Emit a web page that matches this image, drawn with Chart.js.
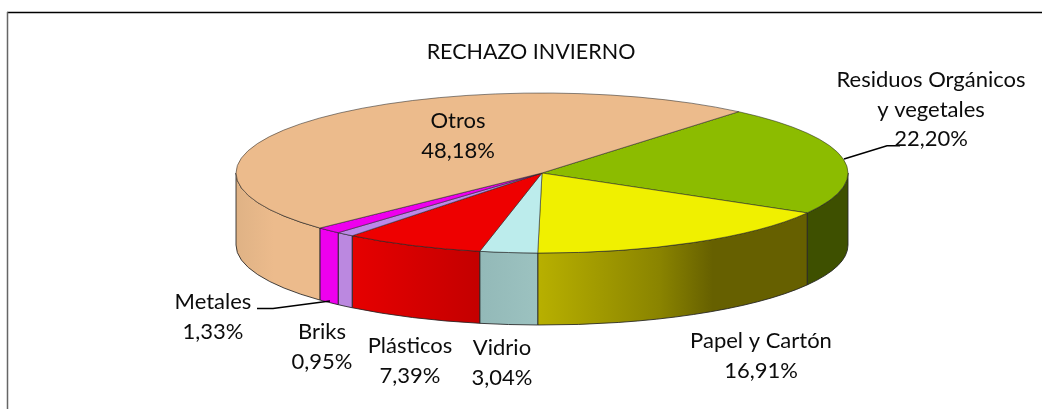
<!DOCTYPE html>
<html><head><meta charset="utf-8">
<style>html,body{margin:0;padding:0;background:#fff}canvas{display:block}</style>
<script src="https://cdn.jsdelivr.net/npm/chart.js@4"></script>
</head><body><canvas id="c" width="1042" height="409"></canvas>
<script>
const chartTitle = 'RECHAZO INVIERNO';
const categories = ['Residuos Orgánicos y vegetales','Papel y Cartón','Vidrio','Plásticos','Briks','Metales','Otros'];
const values = [22.20,16.91,3.04,7.39,0.95,1.33,48.18];
const topColors = ['#8CBC00','#F0F000','#BCECEC','#EE0000','#BB88E8','#EE00EE','#ECBB8C'];
const wallStops = [
  [[0,'#3E5000'],[1,'#3E5000']],
  [[0,'#B8B000'],[0.45,'#8A8400'],[0.65,'#666000'],[1,'#666000']],
  [[0,'#93B9B8'],[1,'#9CC2C0']],
  [[0,'#E60000'],[1,'#C40000']],
  [[0,'#BB88E0'],[1,'#BB88E0']],
  [[0,'#EE00EE'],[1,'#EE00EE']],
  [[0,'#DFB285'],[0.45,'#ECBB8C'],[1,'#ECBB8C']]
];
const labelLines = [['Residuos Orgánicos','y vegetales'],['Papel y Cartón'],['Vidrio'],['Plásticos'],['Briks'],['Metales'],['Otros']];
const labelAnchors = [[931,80],[761,341],[502,348],[410,346],[322,332],[213,302],[458,121]];
const leaders = [[[844,159],[887,145.7],[900,145.7]],null,null,null,null,[[257,308.5],[273,308.5],[330,301]],null];
const RY = 80, RX = 306, DEPTH = 72, LINE_H = 29.5;
const EDGE = 'rgba(35,35,35,0.85)';
const fmt = v => v.toFixed(2).replace('.',',') + '%';

function visibleRange(a,b){
  for (const s of [-2*Math.PI,0,2*Math.PI]){
    const lo=Math.max(a+s,0), hi=Math.min(b+s,Math.PI);
    if (hi>lo) return [lo,hi];
  }
  return null;
}
const pie3d = {
  id:'pie3d',
  beforeDatasetsDraw(chart){
    const ctx=chart.ctx, arcs=chart.getDatasetMeta(0).data;
    arcs.forEach((arc,i)=>{
      const r=visibleRange(arc.startAngle,arc.endAngle);
      if(!r) return;
      const cx=arc.x, cy=arc.y, rx=arc.outerRadius;
      const x0=cx+rx*Math.cos(r[1]), x1=cx+rx*Math.cos(r[0]);
      const g=ctx.createLinearGradient(x0,0,x1,0);
      wallStops[i].forEach(s=>g.addColorStop(s[0],s[1]));
      ctx.save();
      ctx.beginPath();
      ctx.ellipse(cx,cy,rx,RY,0,r[0],r[1]);
      ctx.ellipse(cx,cy+DEPTH,rx,RY,0,r[1],r[0],true);
      ctx.closePath();
      ctx.fillStyle=g; ctx.fill();
      ctx.strokeStyle=EDGE; ctx.lineWidth=1; ctx.stroke();
      ctx.restore();
    });
  },
  beforeDatasetDraw(chart){
    const ctx=chart.ctx, a=chart.getDatasetMeta(0).data[0];
    ctx.save();
    ctx.translate(a.x,a.y); ctx.scale(1,RY/a.outerRadius); ctx.translate(-a.x,-a.y);
  },
  afterDatasetDraw(chart){ chart.ctx.restore(); },
  afterDraw(chart){
    const ctx=chart.ctx;
    ctx.save();
    ctx.strokeStyle='#000'; ctx.lineWidth=1.5;
    ctx.beginPath(); ctx.moveTo(7,12.5); ctx.lineTo(1042,12.5); ctx.stroke();
    ctx.strokeStyle='#666'; ctx.lineWidth=1.5;
    ctx.beginPath(); ctx.moveTo(7.5,12); ctx.lineTo(7.5,409); ctx.stroke();
    leaders.forEach(l=>{
      if(!l) return;
      ctx.strokeStyle='#000'; ctx.lineWidth=1.5;
      ctx.beginPath(); l.forEach((p,j)=> j?ctx.lineTo(p[0],p[1]):ctx.moveTo(p[0],p[1])); ctx.stroke();
    });
    ctx.fillStyle='#0c0c0c'; ctx.textAlign='center'; ctx.textBaseline='middle';
    ctx.font='21.5px Lato';
    ctx.fillText(chartTitle,531,52);
    ctx.font='22px Lato';
    categories.forEach((c,i)=>{
      const lines=[...labelLines[i],fmt(values[i])];
      lines.forEach((t,j)=>ctx.fillText(t,labelAnchors[i][0],labelAnchors[i][1]+j*LINE_H));
    });
    ctx.restore();
  }
};
new Chart(document.getElementById('c'),{
  type:'pie',
  data:{labels:categories,datasets:[{data:values,backgroundColor:topColors,borderColor:EDGE,borderWidth:1}]},
  options:{
    responsive:false,animation:false,rotation:40,radius:RX,
    layout:{padding:{left:42,right:0,top:0,bottom:63}},
    plugins:{legend:{display:false},tooltip:{enabled:false},title:{display:false}}
  },
  plugins:[pie3d]
});
</script></body></html>
